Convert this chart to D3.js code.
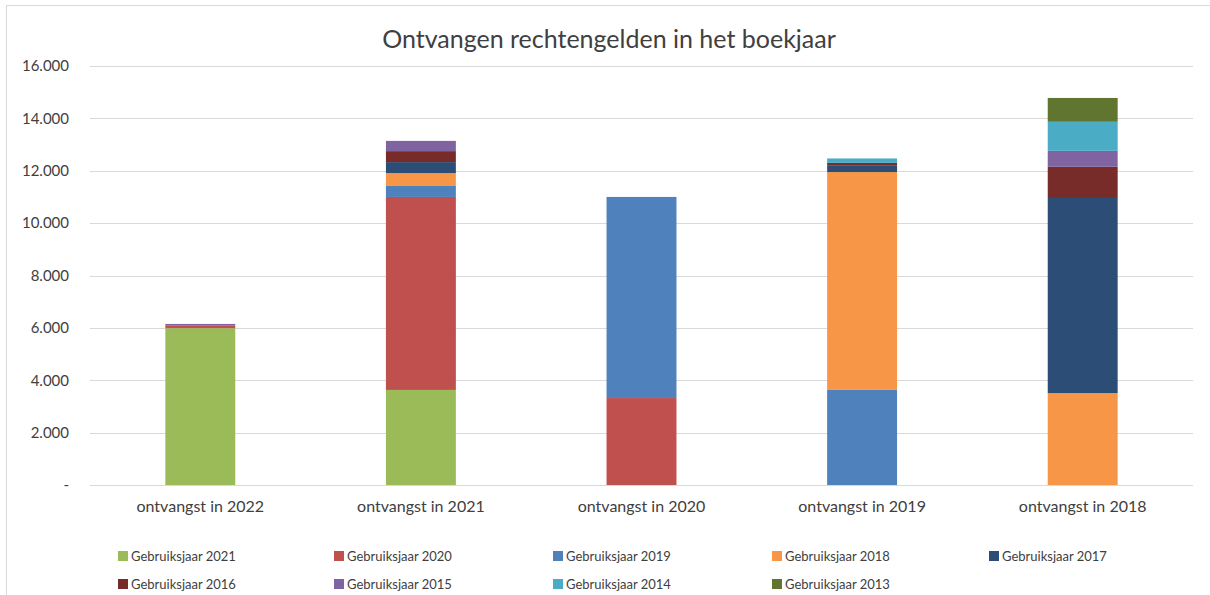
<!DOCTYPE html>
<html>
<head>
<meta charset="utf-8">
<script src="https://cdn.jsdelivr.net/npm/d3@7"></script>
<style>
body { margin: 0; background: #fff; }
text { font-family: Lato, "Open Sans", sans-serif; fill: #404040; }
</style>
</head>
<body>
<div id="chart"></div>
<script>
var categories = ['ontvangst in 2022', 'ontvangst in 2021', 'ontvangst in 2020', 'ontvangst in 2019', 'ontvangst in 2018'];
var seriesNames = ['Gebruiksjaar 2021', 'Gebruiksjaar 2020', 'Gebruiksjaar 2019', 'Gebruiksjaar 2018',
    'Gebruiksjaar 2017', 'Gebruiksjaar 2016', 'Gebruiksjaar 2015', 'Gebruiksjaar 2014', 'Gebruiksjaar 2013'];
var colors = ['#9bbb59', '#c0504d', '#4f81bd', '#f79646', '#2c4d75', '#772c2a', '#8064a2', '#4bacc6', '#5f7530'];

// values per series, one per category
var gj2021 = [5990, 3630, 0, 0, 0];
var gj2020 = [110, 7370, 3320, 0, 0];
var gj2019 = [0, 440, 7680, 3630, 0];
var gj2018 = [0, 470, 0, 8320, 3510];
var gj2017 = [0, 420, 0, 240, 7450];
var gj2016 = [0, 420, 0, 110, 1190];
var gj2015 = [50, 390, 0, 0, 610];
var gj2014 = [0, 0, 0, 170, 1110];
var gj2013 = [0, 0, 0, 0, 910];
var yTicks = [0, 2000, 4000, 6000, 8000, 10000, 12000, 14000, 16000];

var seriesValues = [gj2021, gj2020, gj2019, gj2018, gj2017, gj2016, gj2015, gj2014, gj2013];

var width = 1210, height = 595;
var margin = {top: 66, right: 17, bottom: 110, left: 90};

var table = categories.map(function(c, i){
    var row = {cat: c};
    seriesNames.forEach(function(s, j){ row[s] = seriesValues[j][i]; });
    return row;
});

var svg = d3.select('#chart').append('svg')
    .attr('width', width)
    .attr('height', height);

svg.append('rect')
    .attr('x', 6.5).attr('y', 5.5)
    .attr('width', width + 10).attr('height', height + 10)
    .attr('fill', 'none').attr('stroke', '#d9d9d9');

var x = d3.scaleBand()
    .domain(categories)
    .range([margin.left, width - margin.right])
    .paddingInner(0.683)
    .paddingOuter(0.3415);

var y = d3.scaleLinear()
    .domain([0, 16000])
    .range([height - margin.bottom, margin.top]);

var fmt = function(d){
    return d === 0 ? '-' : d3.format(',')(d).replace(/,/g, '.');
};

// gridlines
svg.append('g').selectAll('line').data(yTicks)
    .enter()
        .append('line')
        .attr('x1', margin.left)
        .attr('x2', width - margin.right)
        .attr('y1', function(d){ return Math.round(y(d)) + 0.5; })
        .attr('y2', function(d){ return Math.round(y(d)) + 0.5; })
        .attr('stroke', '#d9d9d9')
        .attr('stroke-width', 1);

var yAxis = svg.append('g')
    .attr('transform', 'translate(' + margin.left + ',0)')
    .call(d3.axisLeft(y).tickValues(yTicks).tickFormat(fmt).tickSize(0).tickPadding(21));
yAxis.select('.domain').remove();
yAxis.selectAll('text').style('font-size', '15px').attr('fill', '#404040');

var xAxis = svg.append('g')
    .attr('transform', 'translate(0,' + (height - margin.bottom) + ')')
    .call(d3.axisBottom(x).tickSize(0).tickPadding(16));
xAxis.select('.domain').remove();
xAxis.selectAll('text').style('font-size', '16px').attr('fill', '#404040');

var stacked = d3.stack().keys(seriesNames)(table);

svg.append('g').selectAll('g').data(stacked)
    .enter()
        .append('g')
        .attr('fill', function(d, i){ return colors[i]; })
        .selectAll('rect').data(function(d){ return d; })
        .enter()
            .append('rect')
            .attr('x', function(d){ return x(d.data.cat); })
            .attr('width', x.bandwidth())
            .attr('y', function(d){ return y(d[1]); })
            .attr('height', function(d){ return Math.max(0, y(d[0]) - y(d[1])); });

svg.append('text')
    .attr('x', 609)
    .attr('y', 48)
    .attr('text-anchor', 'middle')
    .style('font-size', '25px')
    .text('Ontvangen rechtengelden in het boekjaar');

// legend, 5 per row
var legendX = [118, 334, 553, 772, 989];
var legend = svg.append('g').selectAll('g').data(seriesNames)
    .enter()
        .append('g')
        .attr('transform', function(d, i){
            return 'translate(' + legendX[i % 5] + ',' + (556 + Math.floor(i / 5) * 28) + ')';
        });
legend.append('rect')
    .attr('x', 0).attr('y', -5)
    .attr('width', 10).attr('height', 10)
    .attr('fill', function(d, i){ return colors[i]; });
legend.append('text')
    .attr('x', 13).attr('y', 5)
    .style('font-size', '13px')
    .text(function(d){ return d; });
</script>
</body>
</html>
